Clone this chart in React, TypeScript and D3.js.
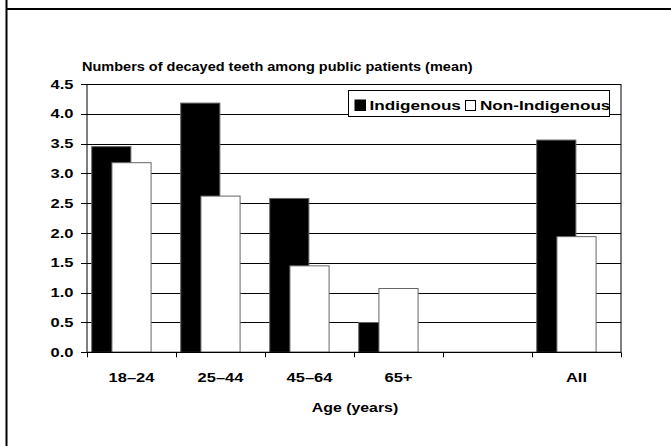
import React from "react";
import * as d3 from "d3";

const categories = ["18–24", "25–44", "45–64", "65+", "", "All"];
const indigenous: (number | null)[] = [3.45, 4.18, 2.58, 0.5, null, 3.56];
const nonIndigenous: (number | null)[] = [3.18, 2.62, 1.45, 1.07, null, 1.94];
const yTicks = [0, 0.5, 1, 1.5, 2, 2.5, 3, 3.5, 4, 4.5];
const seriesNames = ["Indigenous", "Non-Indigenous"];
const title = "Numbers of decayed teeth among public patients (mean)";
const xTitle = "Age (years)";

const W = 671;
const H = 446;
const left = 87;
const right = 621;
const top = 84;
const bottom = 352.3;
const font = "'Liberation Sans', Arial, sans-serif";
const SX = 1.27;

function SText({ x, y, size, anchor = "start", sx = SX, children }: any) {
  return (
    <g transform={`translate(${x},${y}) scale(${sx},1)`}>
      <text x={0} y={0} textAnchor={anchor} fontFamily={font} fontWeight="bold" fontSize={size} fill="#000">
        {children}
      </text>
    </g>
  );
}

export default function App() {
  const x = d3.scaleBand<string>().domain(categories.map((c, i) => String(i))).range([left, right]);
  const y = d3.scaleLinear().domain([0, 4.5]).range([bottom, top]);
  const bw = x.bandwidth();
  const barW = bw * 0.44;
  const off1 = bw * 0.053;
  const off2 = bw * 0.28;

  return (
    <svg width={W} height={H} style={{ position: "absolute", left: 0, top: 0, background: "#fff" }}>
      <rect x={0} y={0} width={W} height={H} fill="#fff" />
      <line x1={6.5} x2={6.5} y1={0} y2={H} stroke="#000" strokeWidth={2} />
      <line x1={6.5} x2={W} y1={9} y2={9} stroke="#000" strokeWidth={2} />
      <SText x={82} y={71} size={12} sx={1.21}>
        {title}
      </SText>
      {yTicks.map((t) => (
        <g key={t}>
          <line x1={left} x2={right} y1={Math.round(y(t)) + 0.5} y2={Math.round(y(t)) + 0.5} stroke="#000" strokeWidth={1} />
          <line x1={left - 6} x2={left} y1={Math.round(y(t)) + 0.5} y2={Math.round(y(t)) + 0.5} stroke="#000" strokeWidth={1} />
          <SText x={73.5} y={y(t) + 4.5} size={13} anchor="end">
            {t.toFixed(1)}
          </SText>
        </g>
      ))}
      {categories.map((c, i) => {
        const x0 = x(String(i))!;
        const a = indigenous[i];
        const b = nonIndigenous[i];
        return (
          <g key={i}>
            {a != null && (
              <rect x={x0 + off1} y={y(a)} width={barW} height={bottom - y(a)} fill="#000" stroke="#666" strokeWidth={1} />
            )}
            {b != null && (
              <rect x={x0 + off2} y={y(b)} width={barW} height={bottom - y(b)} fill="#fff" stroke="#666" strokeWidth={1} />
            )}
            <SText x={x0 + bw / 2} y={382} size={13} anchor="middle">
              {c}
            </SText>
          </g>
        );
      })}
      <line x1={left} x2={left} y1={top} y2={bottom} stroke="#000" strokeWidth={1} />
      <line x1={right} x2={right} y1={top} y2={bottom} stroke="#000" strokeWidth={1} />
      <line x1={left} x2={right} y1={bottom} y2={bottom} stroke="#000" strokeWidth={1.2} />
      {categories.map((c, i) => (
        <line key={"t" + i} x1={x(String(i))! + 0.5} x2={x(String(i))! + 0.5} y1={bottom} y2={bottom + 5} stroke="#000" />
      ))}
      <line x1={right + 0.5} x2={right + 0.5} y1={bottom} y2={bottom + 5} stroke="#000" />
      <SText x={355} y={412} size={12.5} anchor="middle">
        {xTitle}
      </SText>
      <rect x={348.5} y={90.5} width={261} height={26} fill="#fff" stroke="#000" strokeWidth={1} />
      <rect x={355} y={100} width={10.5} height={10.5} fill="#000" stroke="#000" />
      <SText x={369.5} y={110} size={13.5}>
        {seriesNames[0]}
      </SText>
      <rect x={465.5} y={100.5} width={10} height={10} fill="#fff" stroke="#000" />
      <SText x={480} y={110} size={13.5}>
        {seriesNames[1]}
      </SText>
    </svg>
  );
}
